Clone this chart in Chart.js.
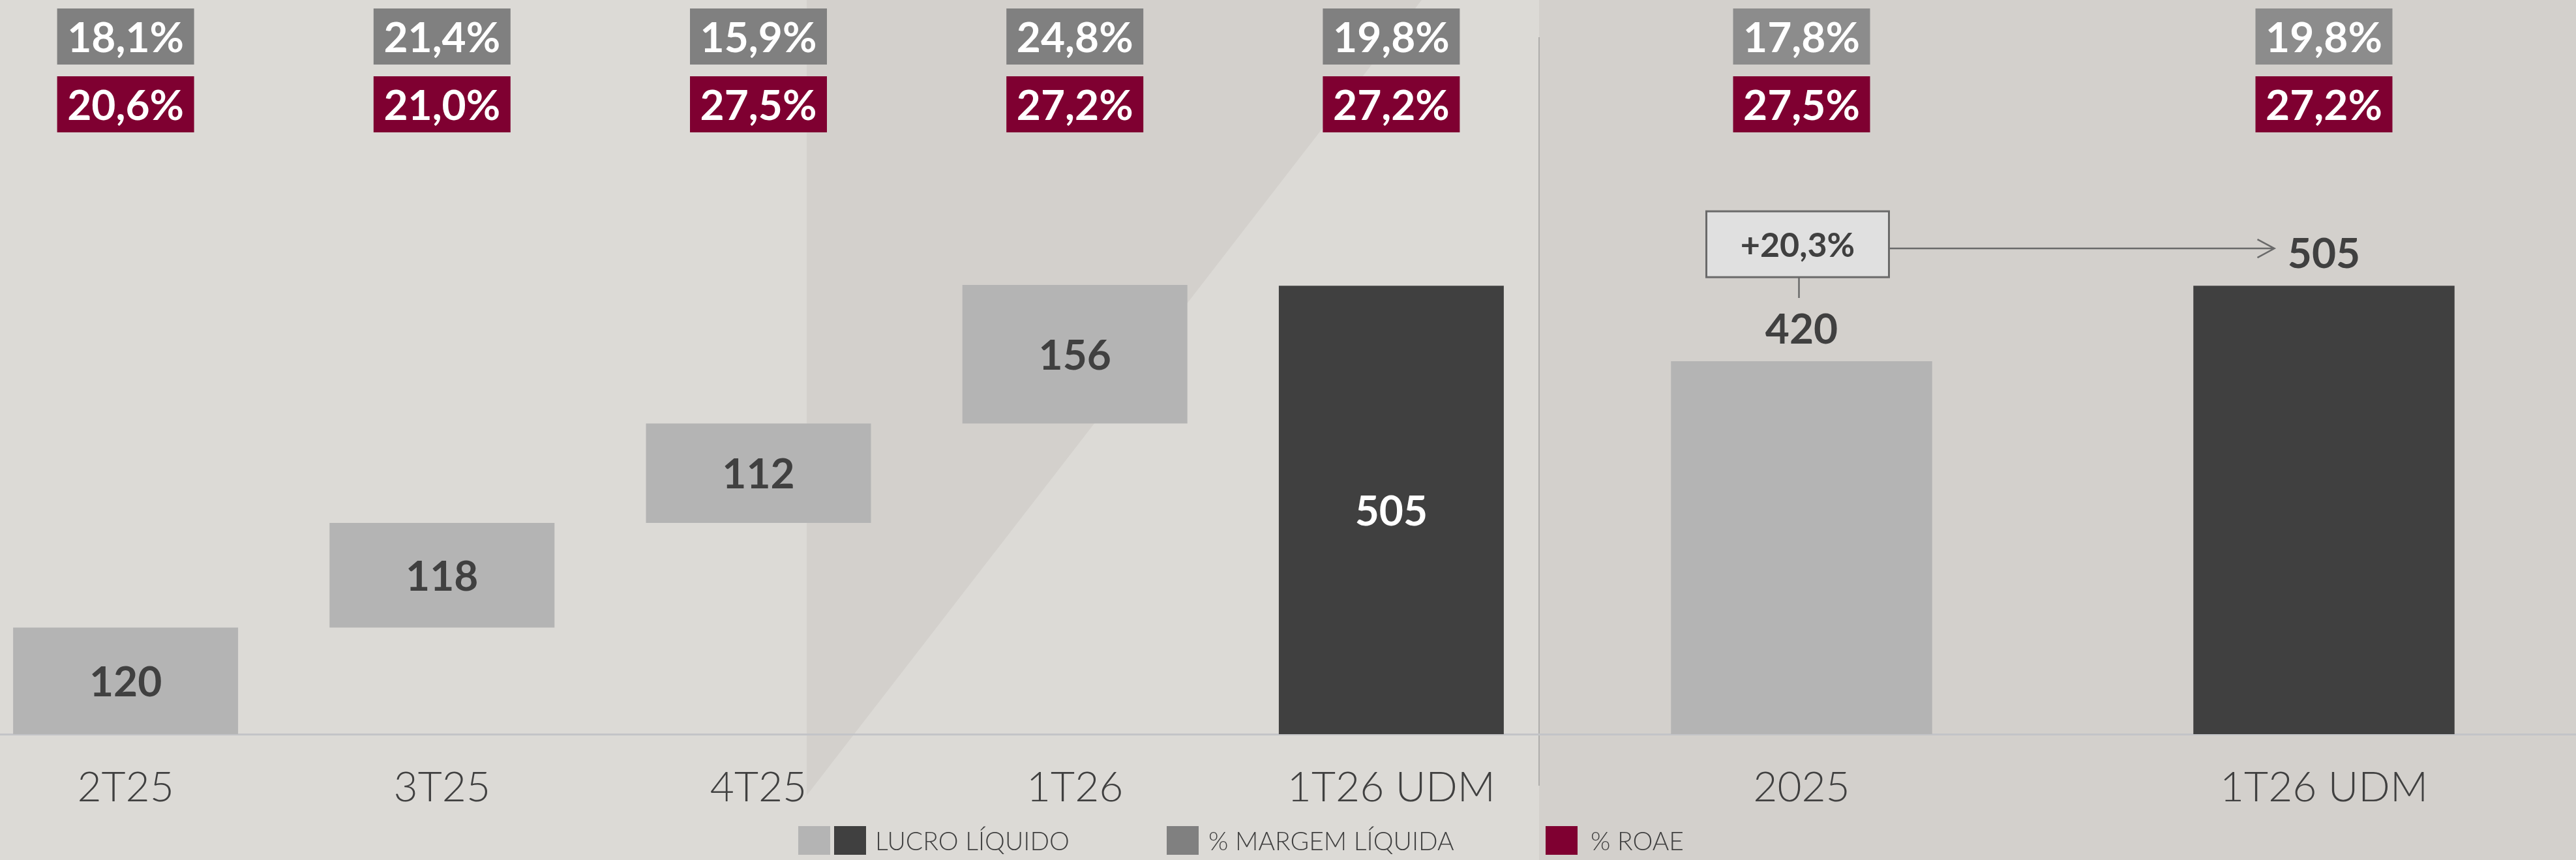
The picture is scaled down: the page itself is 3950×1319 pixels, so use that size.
<!DOCTYPE html>
<html lang="pt-BR">
<head>
<meta charset="utf-8">
<title>Lucro Líquido</title>
<script src="https://cdn.jsdelivr.net/npm/chart.js@4.4.1/dist/chart.umd.min.js"></script>
<style>
  html, body { margin: 0; padding: 0; }
  body {
    width: 3950px; height: 1319px; position: relative; overflow: hidden;
    background: #d3d0cc; font-family: Lato, 'Noto Sans', sans-serif;
  }
  /* areas mais claras do fundo */
  #fundoClaro {
    position: absolute; left: 0; top: 0; width: 3950px; height: 1319px; background: #dcdad6;
    clip-path: polygon(0 0, 1237px 0, 1237px 1220px, 2180px 0, 2360px 0, 2360px 1319px, 0 1319px);
  }
  canvas { position: absolute; top: 0; }
  #graficoTrimestre { left: -50px; }
  #graficoAnual { left: 2362px; }
  #divisor { position: absolute; left: 2359px; top: 57px; width: 2px; height: 1148px; background: #aeadab; }
  .leg { position: absolute; top: 1267px; height: 44px; }
  .legTxt { position: absolute; top: 1262px; font-size: 39px; font-weight: 300; color: #404040; line-height: 54px; white-space: nowrap; }
</style>
</head>
<body>
<div id="fundoClaro"></div>
<div id="divisor"></div>
<canvas id="graficoTrimestre" width="2426" height="1319"></canvas>
<canvas id="graficoAnual" width="1602" height="1319"></canvas>

<div class="leg" style="left:1224px;width:49px;background:#b4b4b4"></div>
<div class="leg" style="left:1279px;width:49px;background:#404040"></div>
<div class="legTxt" style="left:1342px">LUCRO LÍQUIDO</div>
<div class="leg" style="left:1789px;width:49px;background:#808080"></div>
<div class="legTxt" style="left:1853px">% MARGEM LÍQUIDA</div>
<div class="leg" style="left:2370px;width:49px;background:#7f0031"></div>
<div class="legTxt" style="left:2439px">% ROAE</div>

<script>
// dados trimestrais (cascata)
const categoriasTrimestre = ['2T25', '3T25', '4T25', '1T26', '1T26 UDM'];
const lucroTrimestre = [120, 118, 112, 156, 505];
const margemTrimestre = [18.1, 21.4, 15.9, 24.8, 19.8];
const roaeTrimestre = [20.6, 21.0, 27.5, 27.2, 27.2];

// dados anuais
const categoriasAnual = ['2025', '1T26 UDM'];
const lucroAnual = [420, 505];
const margemAnual = [17.8, 19.8];
const roaeAnual = [27.5, 27.2];
const crescimentoAnual = 20.3;

const corClaro = '#b4b4b4';
const corEscuro = '#404040';
const corRoae = '#7f0031';

function formatarPct(v) {
    return v.toFixed(1).replace('.', ',') + '%';
}

// barras flutuantes: cada trimestre parte do acumulado anterior, o ultimo e o total
let acumulado = 0;
const faixasTrimestre = lucroTrimestre.map((v, i) => {
    if (i === lucroTrimestre.length - 1) return [0, v];
    const faixa = [acumulado, acumulado + v];
    acumulado += v;
    return faixa;
});

function caixa(ctx, x, topo, cor, texto) {
    ctx.fillStyle = cor;
    ctx.fillRect(x - 105, topo, 210, 86);
    ctx.fillStyle = '#ffffff';
    ctx.font = 'bold 64px Lato';
    ctx.fillText(texto, x, topo + 46);
}

const rotulosPlugin = {
    id: 'rotulos',
    afterDatasetsDraw(chart, args, opts) {
        const ctx = chart.ctx;
        const meta = chart.getDatasetMeta(0);
        ctx.save();
        ctx.textAlign = 'center';
        ctx.textBaseline = 'middle';
        meta.data.forEach((bar, i) => {
            caixa(ctx, bar.x, 13, opts.corMargem, formatarPct(opts.margem[i]));
            caixa(ctx, bar.x, 117, corRoae, formatarPct(opts.roae[i]));

            const valor = opts.valores[i];
            ctx.font = 'bold 64px Lato';
            if (opts.dentro) {
                ctx.fillStyle = opts.cores[i] === corEscuro ? '#ffffff' : '#404040';
                ctx.fillText(valor, bar.x, (bar.y + bar.base) / 2 + 3);
            } else {
                ctx.fillStyle = '#404040';
                ctx.fillText(valor, bar.x, bar.y - 48);
            }
        });
        ctx.restore();
    }
};

// caixa de crescimento com seta
const crescimentoPlugin = {
    id: 'crescimento',
    afterDatasetsDraw(chart) {
        const ctx = chart.ctx;
        const meta = chart.getDatasetMeta(0);
        const b0 = meta.data[0], b1 = meta.data[1];
        const cx = b0.x - 6;
        const topo = b0.y - 230;
        const ySeta = topo + 57;
        const fimSeta = b1.x - 76;
        ctx.save();
        ctx.strokeStyle = '#6a6a6a';
        ctx.lineWidth = 2.5;
        ctx.beginPath();
        ctx.moveTo(cx + 2, topo + 101);
        ctx.lineTo(cx + 2, b0.y - 97);
        ctx.moveTo(cx + 140, ySeta);
        ctx.lineTo(fimSeta, ySeta);
        ctx.moveTo(fimSeta - 26, ySeta - 14);
        ctx.lineTo(fimSeta, ySeta);
        ctx.lineTo(fimSeta - 26, ySeta + 14);
        ctx.stroke();
        ctx.fillStyle = '#e0e0e0';
        ctx.fillRect(cx - 140, topo, 280, 101);
        ctx.lineWidth = 3;
        ctx.strokeRect(cx - 140, topo, 280, 101);
        ctx.fillStyle = '#404040';
        ctx.font = 'bold 52px Lato';
        ctx.textAlign = 'center';
        ctx.textBaseline = 'middle';
        ctx.fillText('+' + formatarPct(crescimentoAnual), cx, topo + 53);
        ctx.restore();
    }
};

function opcoes(rotulos) {
    return {
        responsive: false,
        animation: false,
        layout: { padding: { top: 309, bottom: 0, left: 0, right: 0 } },
        plugins: {
            legend: { display: false },
            tooltip: { enabled: false },
            rotulos: rotulos
        },
        scales: {
            x: {
                grid: { display: false, drawTicks: false },
                border: { display: true, color: '#c3c4c7', width: 3 },
                ticks: {
                    color: '#404040',
                    padding: 44,
                    font: { family: 'Lato', size: 64, weight: '300' }
                },
                afterFit(scale) { scale.height = 193; }
            },
            y: { display: false, min: 0, max: 600 }
        }
    };
}

const coresTrimestre = lucroTrimestre.map((v, i) => i === lucroTrimestre.length - 1 ? corEscuro : corClaro);

new Chart(document.getElementById('graficoTrimestre').getContext('2d'), {
    type: 'bar',
    data: {
        labels: categoriasTrimestre,
        datasets: [{
            label: 'Lucro Líquido',
            data: faixasTrimestre,
            backgroundColor: coresTrimestre,
            barPercentage: 0.711,
            categoryPercentage: 1
        }]
    },
    options: opcoes({ dentro: true, valores: lucroTrimestre, cores: coresTrimestre, margem: margemTrimestre, roae: roaeTrimestre, corMargem: '#808080' }),
    plugins: [rotulosPlugin]
});

const coresAnual = [corClaro, corEscuro];

new Chart(document.getElementById('graficoAnual').getContext('2d'), {
    type: 'bar',
    data: {
        labels: categoriasAnual,
        datasets: [{
            label: 'Lucro Líquido',
            data: lucroAnual,
            backgroundColor: coresAnual,
            barPercentage: 0.5,
            categoryPercentage: 1
        }]
    },
    options: opcoes({ dentro: false, valores: lucroAnual, cores: coresAnual, margem: margemAnual, roae: roaeAnual, corMargem: '#8c8c8c' }),
    plugins: [rotulosPlugin, crescimentoPlugin]
});
</script>
</body>
</html>
